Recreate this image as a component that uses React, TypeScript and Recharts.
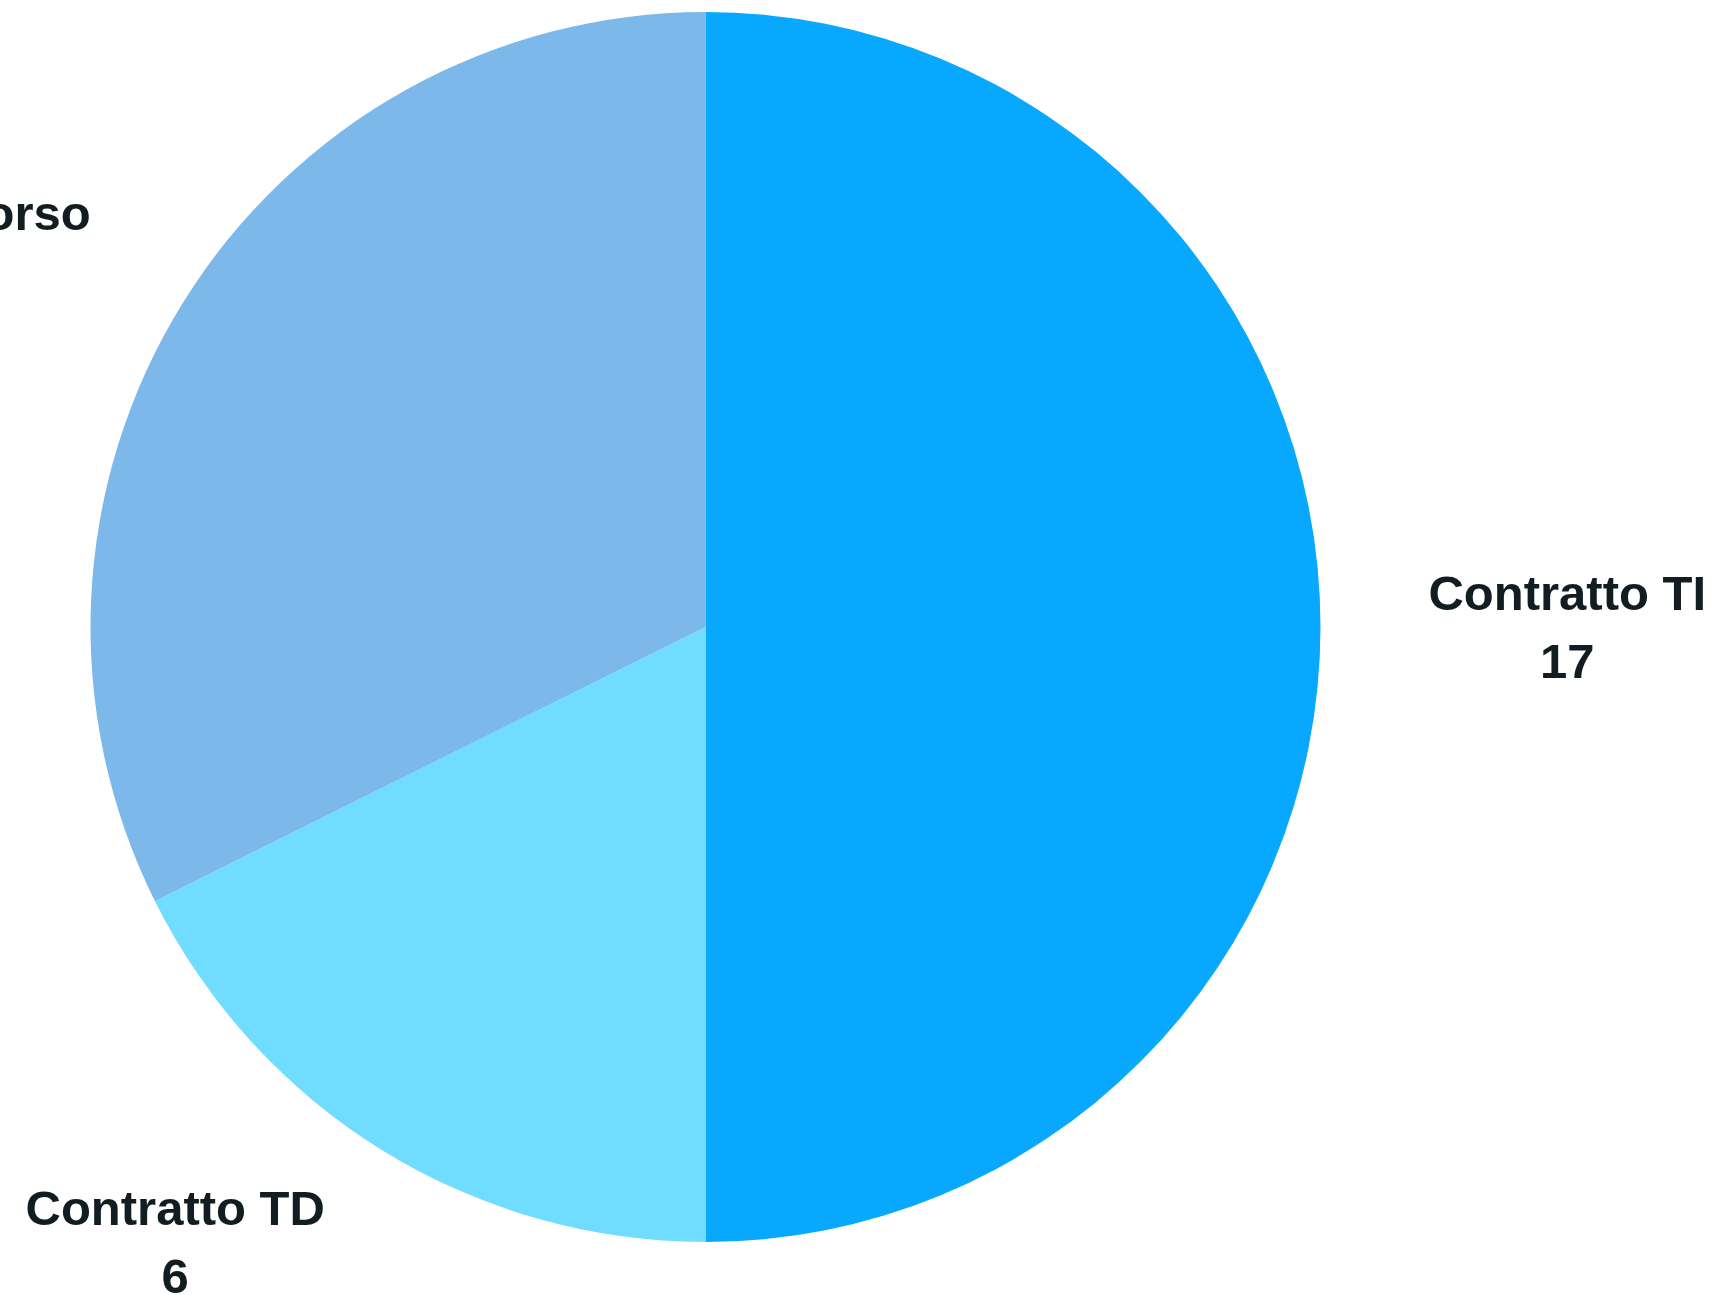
import { PieChart, Pie, Cell } from 'recharts';

const categories = ['Contratto TI', 'Contratto TD', 'Dottorato in corso'];
const counts = [17, 6, 11];
const sliceColors = ['#08a8ff', '#70dcff', '#7cb8ea'];

const data = categories.map((name, i) => ({ name, value: counts[i] }));

const FONT_SIZE = 49;
const LINE_GAP = 68;
const LABEL_FONT = `bold ${FONT_SIZE}px 'Liberation Sans', Arial, sans-serif`;
const RAD = Math.PI / 180;

let ctx: CanvasRenderingContext2D | null = null;
function textWidth(s: string) {
  if (!ctx) ctx = document.createElement('canvas').getContext('2d');
  if (!ctx) return s.length * FONT_SIZE * 0.6;
  ctx.font = LABEL_FONT;
  return ctx.measureText(s).width;
}

// label block sits outside the pie: its near edge on the radial line, centred vertically on it
function renderLabel(props: any) {
  const { cx, cy, midAngle, outerRadius, name, value } = props;
  const ux = Math.cos(-midAngle * RAD);
  const uy = Math.sin(-midAngle * RAD);
  const dist = outerRadius + 108;
  const px = cx + dist * ux;
  const py = cy + dist * uy;
  const w = Math.max(textWidth(String(name)), textWidth(String(value)));
  let midX = px;
  if (ux > 0.001) midX = px + w / 2;
  else if (ux < -0.001) midX = px - w / 2;
  const base1 = py - 16.8;
  return (
    <text
      textAnchor="middle"
      fill="#121d21"
      style={{ font: LABEL_FONT }}
    >
      <tspan x={midX} y={base1}>{name}</tspan>
      <tspan x={midX} y={base1 + LINE_GAP}>{value}</tspan>
    </text>
  );
}

export default function App() {
  return (
    <div style={{ position: 'absolute', left: 0, top: 0, width: 1718, height: 1295, background: '#fff' }}>
      <PieChart width={1718} height={1295} margin={{ top: 0, right: 0, bottom: 0, left: 0 }}>
        <Pie
          data={data}
          dataKey="value"
          nameKey="name"
          cx={705.5}
          cy={627}
          outerRadius={615}
          startAngle={90}
          endAngle={-270}
          stroke="none"
          label={renderLabel}
          labelLine={false}
          isAnimationActive={false}
        >
          {data.map((_, i) => (
            <Cell key={`cell-${i}`} fill={sliceColors[i]} />
          ))}
        </Pie>
      </PieChart>
    </div>
  );
}
